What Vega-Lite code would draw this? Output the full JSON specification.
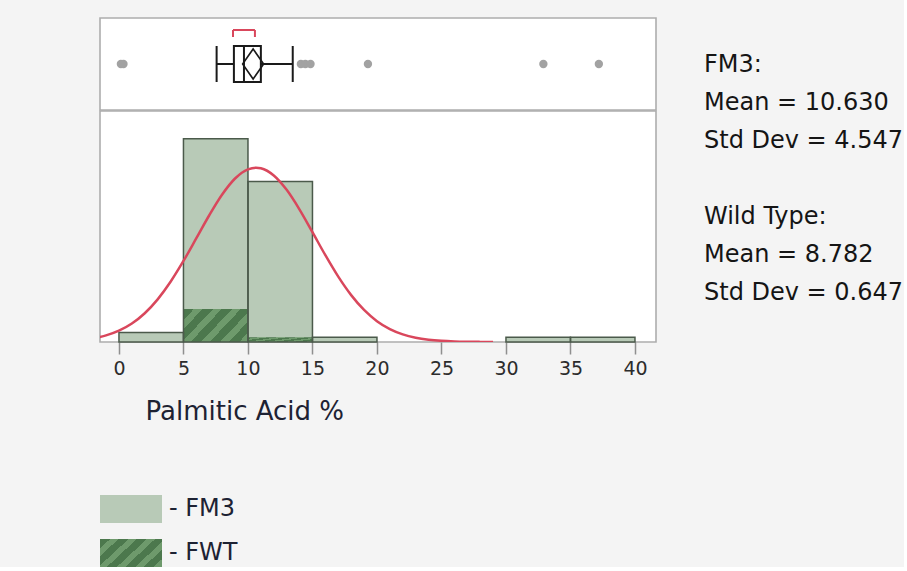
{
  "$schema": "https://vega.github.io/schema/vega-lite/v6.json",
  "background": "#f4f4f4",
  "padding": {"left": 99, "top": 17, "right": 0, "bottom": 0},
  "config": {
    "view": {"fill": "white", "stroke": "#adadad", "strokeWidth": 1.6},
    "font": "DejaVu Sans"
  },
  "datasets": {
    "box": [{"grp": "FM3", "lo": 7.57, "q1": 8.91, "med": 9.69, "q3": 11.0, "hi": 13.47, "diamond_c": 10.4, "sh_lo": 8.84, "sh_hi": 10.54}],
    "outliers": [
      {"grp": "FM3", "v": 0.15}, {"grp": "FM3", "v": 0.35},
      {"grp": "FM3", "v": 14.1}, {"grp": "FM3", "v": 14.45}, {"grp": "FM3", "v": 14.85},
      {"grp": "FM3", "v": 19.3}, {"grp": "FM3", "v": 32.9}, {"grp": "FM3", "v": 37.2}
    ],
    "bins_fm3": [
      {"group": "FM3", "lo": 0, "hi": 5, "count": 2},
      {"group": "FM3", "lo": 5, "hi": 10, "count": 43},
      {"group": "FM3", "lo": 10, "hi": 15, "count": 34},
      {"group": "FM3", "lo": 15, "hi": 20, "count": 1},
      {"group": "FM3", "lo": 30, "hi": 35, "count": 1},
      {"group": "FM3", "lo": 35, "hi": 40, "count": 1}
    ],
    "bins_fwt": [
      {"group": "FWT", "lo": 5, "hi": 10, "count": 7},
      {"group": "FWT", "lo": 10, "hi": 15, "count": 1}
    ],
    "curve": [
      {"x": -1.5, "y": 1.05}, {"x": -1, "y": 1.4}, {"x": 0, "y": 2.4}, {"x": 1, "y": 3.91},
      {"x": 2, "y": 6.09}, {"x": 3, "y": 9.03}, {"x": 4, "y": 12.75}, {"x": 5, "y": 17.15},
      {"x": 6, "y": 21.97}, {"x": 7, "y": 26.83}, {"x": 8, "y": 31.22}, {"x": 9, "y": 34.61},
      {"x": 10, "y": 36.55}, {"x": 10.63, "y": 36.9}, {"x": 11, "y": 36.78}, {"x": 12, "y": 35.26},
      {"x": 13, "y": 32.21}, {"x": 14, "y": 28.04}, {"x": 15, "y": 23.25}, {"x": 16, "y": 18.37},
      {"x": 17, "y": 13.83}, {"x": 18, "y": 9.92}, {"x": 19, "y": 6.78}, {"x": 20, "y": 4.41},
      {"x": 21, "y": 2.74}, {"x": 22, "y": 1.62}, {"x": 23, "y": 0.91}, {"x": 24, "y": 0.49},
      {"x": 25, "y": 0.25}, {"x": 26, "y": 0.12}, {"x": 27, "y": 0.056}, {"x": 28, "y": 0.025},
      {"x": 29, "y": 0.01}
    ],
    "stats": [
      {"line": 0, "t": "FM3:"},
      {"line": 1, "t": "Mean = 10.630"},
      {"line": 2, "t": "Std Dev = 4.547"},
      {"line": 4, "t": "Wild Type:"},
      {"line": 5, "t": "Mean = 8.782"},
      {"line": 6, "t": "Std Dev = 0.647"}
    ]
  },
  "spacing": 47,
  "hconcat": [
    {
      "spacing": -1.6,
      "vconcat": [
        {
          "width": 556,
          "height": 92,
          "layer": [
            {
              "data": {"name": "box"},
              "mark": {"type": "rule", "color": "#1a1a1a", "strokeWidth": 2},
              "encoding": {
                "x": {"field": "lo", "type": "quantitative", "scale": {"domain": [-1.47, 41.63], "nice": false, "zero": false}, "axis": null},
                "x2": {"field": "hi"},
                "y": {"field": "grp", "type": "nominal", "axis": null, "scale": {"paddingInner": 0, "paddingOuter": 0}}
              }
            },
            {
              "data": {"name": "box"},
              "mark": {"type": "bar", "height": 36, "fill": "white", "stroke": "#1a1a1a", "strokeWidth": 2},
              "encoding": {
                "x": {"field": "q1", "type": "quantitative"},
                "x2": {"field": "q3"},
                "y": {"field": "grp", "type": "nominal"}
              }
            },
            {
              "data": {"name": "box"},
              "mark": {"type": "tick", "size": 36, "thickness": 2, "color": "#1a1a1a", "opacity": 1},
              "encoding": {"x": {"field": "lo", "type": "quantitative"}, "y": {"field": "grp", "type": "nominal"}}
            },
            {
              "data": {"name": "box"},
              "mark": {"type": "tick", "size": 36, "thickness": 2, "color": "#1a1a1a", "opacity": 1},
              "encoding": {"x": {"field": "hi", "type": "quantitative"}, "y": {"field": "grp", "type": "nominal"}}
            },
            {
              "data": {"name": "box"},
              "mark": {"type": "tick", "size": 36, "thickness": 2, "color": "#1a1a1a", "opacity": 1},
              "encoding": {"x": {"field": "med", "type": "quantitative"}, "y": {"field": "grp", "type": "nominal"}}
            },
            {
              "data": {"name": "box"},
              "mark": {"type": "point", "shape": "M-1,0L0,-1.43L1,0L0,1.43Z", "size": 441, "filled": false, "color": "#1a1a1a", "strokeWidth": 1.6, "opacity": 1},
              "encoding": {"x": {"field": "diamond_c", "type": "quantitative"}, "y": {"field": "grp", "type": "nominal"}}
            },
            {
              "data": {"name": "box"},
              "mark": {"type": "rule", "color": "#d9475c", "strokeWidth": 2, "yOffset": -34},
              "encoding": {"x": {"field": "sh_lo", "type": "quantitative"}, "x2": {"field": "sh_hi"}, "y": {"field": "grp", "type": "nominal"}}
            },
            {
              "data": {"name": "box"},
              "mark": {"type": "tick", "size": 7, "thickness": 2, "color": "#d9475c", "opacity": 1, "yOffset": -30.5},
              "encoding": {"x": {"field": "sh_lo", "type": "quantitative"}, "y": {"field": "grp", "type": "nominal"}}
            },
            {
              "data": {"name": "box"},
              "mark": {"type": "tick", "size": 7, "thickness": 2, "color": "#d9475c", "opacity": 1, "yOffset": -30.5},
              "encoding": {"x": {"field": "sh_hi", "type": "quantitative"}, "y": {"field": "grp", "type": "nominal"}}
            },
            {
              "data": {"name": "outliers"},
              "mark": {"type": "point", "filled": true, "size": 70, "color": "#a2a2a2", "opacity": 1},
              "encoding": {"x": {"field": "v", "type": "quantitative"}, "y": {"field": "grp", "type": "nominal"}}
            }
          ]
        },
        {
          "width": 556,
          "height": 231,
          "layer": [
            {
              "data": {"name": "bins_fm3"},
              "mark": {"type": "bar", "strokeWidth": 0},
              "encoding": {
                "x": {
                  "field": "lo", "type": "quantitative",
                  "scale": {"domain": [-1.47, 41.63], "nice": false, "zero": false},
                  "axis": {
                    "values": [0, 5, 10, 15, 20, 25, 30, 35, 40],
                    "domain": false, "grid": false,
                    "tickColor": "#8f8f8f", "tickSize": 12, "tickWidth": 1.5,
                    "labelFont": "DejaVu Sans", "labelFontSize": 19, "labelColor": "#2c2c2c",
                    "labelBaseline": "alphabetic", "labelPadding": 20, "labelFlush": false,
                    "title": "Palmitic Acid %",
                    "titleFont": "DejaVu Sans", "titleFontSize": 26, "titleFontWeight": "normal", "titleColor": "#1d2233",
                    "titleAnchor": "start", "titleAlign": "left", "titleBaseline": "alphabetic",
                    "titleX": 45, "titleY": 77
                  }
                },
                "x2": {"field": "hi"},
                "y": {"field": "count", "type": "quantitative", "scale": {"domain": [0, 48.9], "nice": false}, "axis": null},
                "y2": {"datum": 0},
                "fill": {
                  "field": "group", "type": "nominal",
                  "scale": {
                    "domain": ["FM3", "FWT"],
                    "range": [
                      "#b8cab7",
                      {"expr": "{gradient: 'linear', x1: 0, y1: 0, x2: 1.2, y2: 0.58, stops: [{offset: 0, color: '#4c784d'}, {offset: 0.11, color: '#4c784d'}, {offset: 0.11, color: '#6e9a6c'}, {offset: 0.2, color: '#6e9a6c'}, {offset: 0.2, color: '#4c784d'}, {offset: 0.31, color: '#4c784d'}, {offset: 0.31, color: '#6e9a6c'}, {offset: 0.4, color: '#6e9a6c'}, {offset: 0.4, color: '#4c784d'}, {offset: 0.51, color: '#4c784d'}, {offset: 0.51, color: '#6e9a6c'}, {offset: 0.6, color: '#6e9a6c'}, {offset: 0.6, color: '#4c784d'}, {offset: 0.71, color: '#4c784d'}, {offset: 0.71, color: '#6e9a6c'}, {offset: 0.8, color: '#6e9a6c'}, {offset: 0.8, color: '#4c784d'}, {offset: 0.91, color: '#4c784d'}, {offset: 0.91, color: '#6e9a6c'}, {offset: 1, color: '#6e9a6c'}]}"}
                    ]
                  },
                  "legend": {
                    "title": null,
                    "orient": "none",
                    "legendX": 0,
                    "legendY": 477,
                    "padding": 0,
                    "symbolType": "M-1,-0.45H1V0.45H-1Z",
                    "symbolSize": 3844,
                    "symbolStrokeWidth": 0,
                    "symbolOpacity": 1,
                    "clipHeight": 28,
                    "rowPadding": 16,
                    "labelFont": "DejaVu Sans",
                    "labelFontSize": 24,
                    "labelColor": "#1d2233",
                    "labelOffset": 7,
                    "labelExpr": "'- ' + datum.label"
                  }
                }
              }
            },
            {
              "data": {"name": "bins_fwt"},
              "mark": {"type": "bar", "strokeWidth": 0},
              "encoding": {
                "x": {"field": "lo", "type": "quantitative"},
                "x2": {"field": "hi"},
                "y": {"field": "count", "type": "quantitative"},
                "y2": {"datum": 0},
                "fill": {"field": "group", "type": "nominal"}
              }
            },
            {
              "data": {"name": "bins_fm3"},
              "mark": {"type": "bar", "fill": "transparent", "stroke": "#4b5a4b", "strokeWidth": 1.5},
              "encoding": {
                "x": {"field": "lo", "type": "quantitative"},
                "x2": {"field": "hi"},
                "y": {"field": "count", "type": "quantitative"},
                "y2": {"datum": 0}
              }
            },
            {
              "data": {"name": "curve"},
              "mark": {"type": "line", "color": "#d9475c", "strokeWidth": 2.5, "clip": true, "interpolate": "monotone"},
              "encoding": {
                "x": {"field": "x", "type": "quantitative"},
                "y": {"field": "y", "type": "quantitative"}
              }
            }
          ]
        }
      ]
    },
    {
      "width": 200,
      "height": 300.7,
      "view": {"fill": null, "stroke": null},
      "data": {"name": "stats"},
      "mark": {"type": "text", "align": "left", "baseline": "alphabetic", "font": "DejaVu Sans", "fontSize": 24, "color": "#151515"},
      "encoding": {
        "x": {"datum": 0, "type": "quantitative", "scale": {"domain": [0, 1]}, "axis": null},
        "y": {"field": "line", "type": "quantitative", "scale": {"domain": [-1.413, 6.5], "reverse": true, "nice": false, "zero": false}, "axis": null},
        "text": {"field": "t"}
      }
    }
  ]
}
